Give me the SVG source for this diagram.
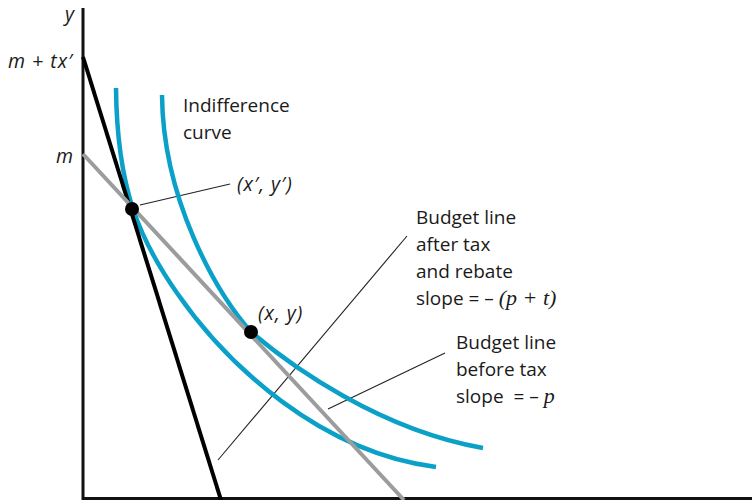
<svg xmlns="http://www.w3.org/2000/svg" width="752" height="500" viewBox="0 0 752 500">
<style>
.t{font-family:"Open Sans","Noto Sans",sans-serif;font-size:19px;fill:#1a1a1a}
.m{font-family:"Open Sans","Noto Sans",sans-serif;font-size:19.5px;font-style:italic;fill:#1a1a1a;letter-spacing:1px}
.s{font-family:"Liberation Serif",serif;font-style:italic;font-size:22px}
.axis{stroke:#111;stroke-width:3;fill:none}
.ic{stroke:#0aa0c8;stroke-width:4.5;fill:none;stroke-linecap:butt}
.lead{stroke:#222;stroke-width:1.1;fill:none}
</style>
<rect width="752" height="500" fill="#fff"/>
<g id="axes">
<line class="axis" x1="83" y1="8" x2="83" y2="500"/>
<line class="axis" x1="82" y1="498.5" x2="752" y2="498.5"/>
</g>
<g id="connectors">
<line class="lead" x1="140" y1="205" x2="230" y2="184"/>
<line class="lead" x1="218" y1="460" x2="407" y2="236"/>
<line class="lead" x1="328" y1="409" x2="445" y2="353"/>
</g>
<g id="curve-inner"><path class="ic" d="M116,88 C117,190 140,240 177,293 C227,365 320,452 436,467"/></g>
<g id="curve-outer"><path class="ic" d="M162,95 C163,200 216,292 251,332 C291,366 380,430 483,448"/></g>
<g id="budget-after"><line x1="83" y1="57" x2="221" y2="500" stroke="#000" stroke-width="4"/></g>
<g id="budget-before"><line x1="83" y1="154" x2="404" y2="500" stroke="#9a9c9d" stroke-width="4"/></g>
<g id="point-prime"><circle cx="132" cy="209" r="7" fill="#000"/></g>
<g id="point-xy"><circle cx="251" cy="332" r="7" fill="#000"/></g>
<g id="labels">
<text class="m" x="65" y="21">y</text>
<text class="m" x="8" y="68">m + tx′</text>
<text class="m" x="56" y="163">m</text>
<text class="t" x="183" y="112">Indifference</text>
<text class="t" x="183" y="139">curve</text>
<text class="m" x="237" y="191">(x′, y′)</text>
<text class="m" x="258" y="320">(x, y)</text>
<text class="t" x="416" y="224">Budget line</text>
<text class="t" x="416" y="251">after tax</text>
<text class="t" x="416" y="278">and rebate</text>
<text class="t" x="416" y="305">slope = – <tspan class="s">(p + t)</tspan></text>
<text class="t" x="456" y="349">Budget line</text>
<text class="t" x="456" y="376">before tax</text>
<text class="t" x="456" y="403">slope &#160;= – <tspan class="s">p</tspan></text>
</g>
</svg>
